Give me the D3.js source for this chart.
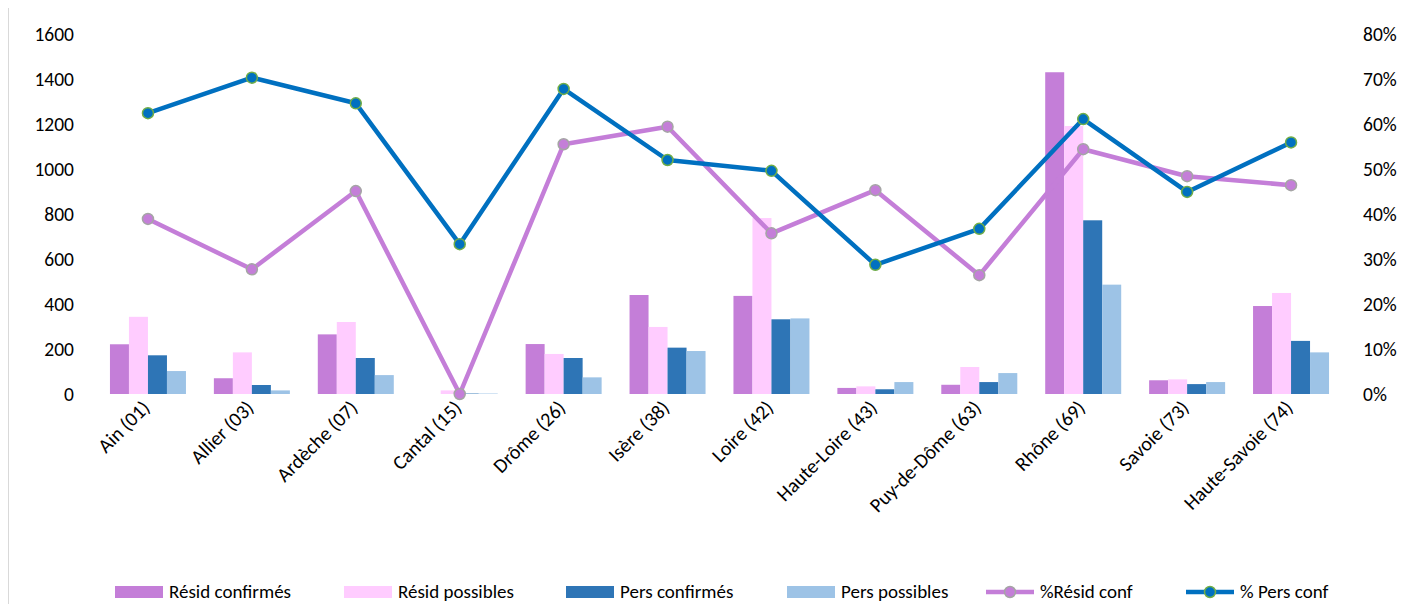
<!DOCTYPE html>
<html>
<head>
<meta charset="utf-8">
<script src="https://cdn.jsdelivr.net/npm/d3@7"></script>
<style>
  html, body { margin: 0; padding: 0; background: #fff; }
  svg { display: block; font-family: Carlito, Calibri, Lato, sans-serif; }
</style>
</head>
<body>
<svg id="chart" width="1426" height="604"></svg>
<script>
const categories = ["Ain (01)", "Allier (03)", "Ardèche (07)", "Cantal (15)", "Drôme (26)", "Isère (38)",
  "Loire (42)", "Haute-Loire (43)", "Puy-de-Dôme (63)", "Rhône (69)", "Savoie (73)", "Haute-Savoie (74)"];
const residConfirmes = [221, 70, 265, 0, 222, 440, 436, 27, 41, 1430, 61, 391];
const residPossibles = [343, 185, 320, 16, 178, 298, 782, 34, 120, 1191, 65, 449];
const persConfirmes  = [172, 40, 160, 2, 160, 206, 332, 21, 53, 772, 44, 236];
const persPossibles  = [102, 16, 84, 2, 74, 191, 336, 53, 93, 486, 53, 185];
const pctResidConf   = [0.389, 0.277, 0.451, 0.0, 0.555, 0.594, 0.357, 0.453, 0.264, 0.544, 0.484, 0.464];
const pctPersConf    = [0.624, 0.703, 0.646, 0.333, 0.678, 0.520, 0.496, 0.287, 0.367, 0.611, 0.449, 0.559];
const leftTicks  = [0, 200, 400, 600, 800, 1000, 1200, 1400, 1600];
const rightTicks = [0, 0.1, 0.2, 0.3, 0.4, 0.5, 0.6, 0.7, 0.8];
const barSeriesNames = ["Résid confirmés", "Résid possibles", "Pers confirmés", "Pers possibles"];
const lineSeriesNames = ["%Résid conf", "% Pers conf"];

const barColors = ["#C47ED8", "#FFCCFF", "#2E75B6", "#9DC3E6"];
const lineColors = ["#C47ED8", "#0070C0"];
const markerStroke = ["#A5A5A5", "#70AD47"];
const FONT = "Carlito, Calibri, Lato, sans-serif";

const svg = d3.select("#chart");

// left border line
svg.append("line").attr("x1", 8.5).attr("x2", 8.5).attr("y1", 8).attr("y2", 604)
  .attr("stroke", "#D9D9D9").attr("stroke-width", 1);

const x = d3.scaleBand().domain(categories).range([96, 1343]).paddingInner(0).paddingOuter(0);
const yL = d3.scaleLinear().domain([0, 1600]).range([394, 34]);
const yR = d3.scaleLinear().domain([0, 0.8]).range([394, 34]);
const groupW = 76;
const xs = d3.scaleBand().domain(d3.range(4)).range([0, groupW]);

const barData = [residConfirmes, residPossibles, persConfirmes, persPossibles];

// bars
barData.forEach((vals, si) => {
  svg.append("g").selectAll("rect").data(vals).join("rect")
    .attr("x", (d, i) => x(categories[i]) + x.bandwidth() / 2 - groupW / 2 + xs(si))
    .attr("width", xs.bandwidth())
    .attr("y", d => yL(d))
    .attr("height", d => yL(0) - yL(d))
    .attr("fill", barColors[si]);
});

// axes (text only)
const axL = svg.append("g").attr("transform", "translate(74,0)")
  .call(d3.axisLeft(yL).tickValues(leftTicks).tickSize(0).tickPadding(0).tickFormat(d3.format("d")));
axL.select(".domain").remove();
axL.selectAll("text").attr("font-size", 19.5).attr("fill", "#000").attr("font-family", FONT);

const axR = svg.append("g").attr("transform", "translate(1363,0)")
  .call(d3.axisRight(yR).tickValues(rightTicks).tickSize(0).tickPadding(0).tickFormat(d3.format(".0%")));
axR.select(".domain").remove();
axR.selectAll("text").attr("font-size", 19.5).attr("fill", "#000").attr("font-family", FONT);

const axB = svg.append("g").attr("transform", "translate(0,394)")
  .call(d3.axisBottom(x).tickSize(0).tickPadding(0));
axB.select(".domain").remove();
axB.selectAll("text")
  .attr("font-size", 20).attr("fill", "#000").attr("font-family", FONT)
  .attr("text-anchor", "end")
  .attr("dy", "0")
  .attr("transform", "translate(3,15) rotate(-45)");

// lines
const lineData = [pctResidConf, pctPersConf];
lineData.forEach((vals, li) => {
  const line = d3.line().x((d, i) => x(categories[i]) + x.bandwidth() / 2).y(d => yR(d));
  svg.append("path").datum(vals).attr("d", line)
    .attr("fill", "none").attr("stroke", lineColors[li]).attr("stroke-width", 4.5)
    .attr("stroke-linejoin", "round");
  svg.append("g").selectAll("circle").data(vals).join("circle")
    .attr("cx", (d, i) => x(categories[i]) + x.bandwidth() / 2)
    .attr("cy", d => yR(d))
    .attr("r", 5.5)
    .attr("fill", lineColors[li])
    .attr("stroke", markerStroke[li]).attr("stroke-width", 1.5);
});

// legend
const legendY = 592;
const legendItems = [
  { name: barSeriesNames[0], type: "bar", idx: 0, x: 115 },
  { name: barSeriesNames[1], type: "bar", idx: 1, x: 344 },
  { name: barSeriesNames[2], type: "bar", idx: 2, x: 566 },
  { name: barSeriesNames[3], type: "bar", idx: 3, x: 787 },
  { name: lineSeriesNames[0], type: "line", idx: 0, x: 986 },
  { name: lineSeriesNames[1], type: "line", idx: 1, x: 1186 }
];
const lg = svg.append("g").attr("font-family", FONT);
legendItems.forEach(it => {
  const g = lg.append("g").attr("transform", `translate(${it.x},${legendY})`);
  if (it.type === "bar") {
    g.append("rect").attr("x", 0).attr("y", -6).attr("width", 48).attr("height", 12).attr("fill", barColors[it.idx]);
  } else {
    g.append("line").attr("x1", 0).attr("x2", 48).attr("y1", 0).attr("y2", 0)
      .attr("stroke", lineColors[it.idx]).attr("stroke-width", 4.5);
    g.append("circle").attr("cx", 24).attr("cy", 0).attr("r", 5.5)
      .attr("fill", lineColors[it.idx]).attr("stroke", markerStroke[it.idx]).attr("stroke-width", 1.5);
  }
  g.append("text").attr("x", 54).attr("y", 0).attr("dy", "0.33em")
    .attr("font-size", 19).attr("fill", "#000").text(it.name);
});
</script>
</body>
</html>
